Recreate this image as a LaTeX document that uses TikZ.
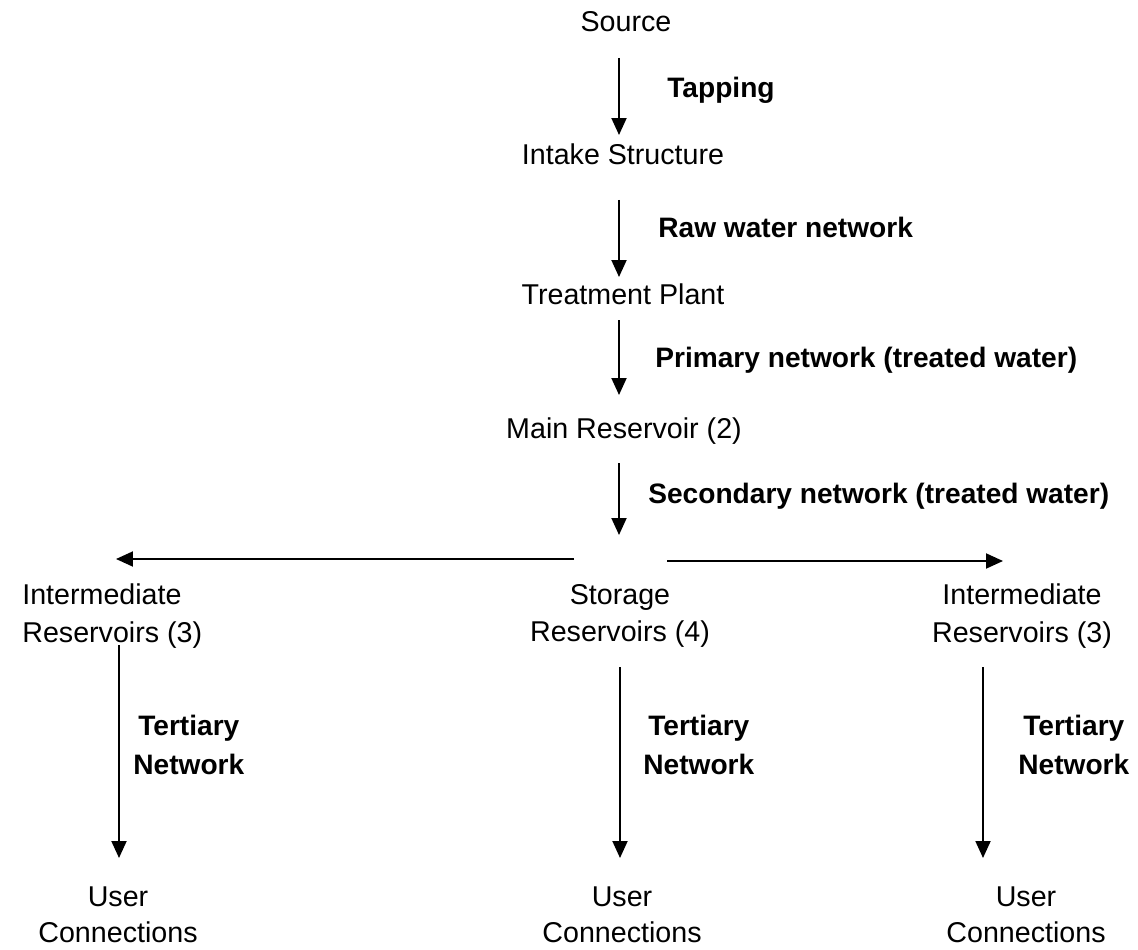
\documentclass[tikz,border=0pt]{standalone}
\usepackage{fontspec}
\setmainfont{Liberation Sans}
\usetikzlibrary{arrows.meta}
\tikzset{
  place/.style={inner sep=0pt, font=\fontsize{16.3}{21.5}\selectfont, align=center},
  netname/.style={inner sep=0pt, anchor=west, font=\fontsize{16}{22.5}\selectfont\bfseries, align=center},
  flow/.style={line width=1.1pt, -{Triangle[length=0.34cm,width=0.3cm]}}
}
\begin{document}
\begin{tikzpicture}[x=0.02cm,y=-0.02cm]
\useasboundingbox (0,0) rectangle (1138,949);
% main line
\node[place,anchor=base] (source) at (626,32) {Source};
\node[place,anchor=base] (intake) at (623,165) {Intake Structure};
\node[place,anchor=base] (plant) at (623,304) {Treatment Plant};
\node[place,anchor=base] (mainres) at (624,438) {Main Reservoir (2)};
% reservoirs
\node[place,align=left,anchor=west] (interL) at (22,616) {Intermediate\\Reservoirs (3)};
\node[place] (storage) at (620,616) {Storage\\Reservoirs (4)};
\node[place] (interR) at (1022,616) {Intermediate\\Reservoirs (3)};
% users
\node[place,font=\fontsize{16.3}{20.5}\selectfont] (userL) at (118,915) {User\\Connections};
\node[place,font=\fontsize{16.3}{20.5}\selectfont] (userM) at (622,915) {User\\Connections};
\node[place,font=\fontsize{16.3}{20.5}\selectfont] (userR) at (1026,915) {User\\Connections};
% network names
\node[netname] (tapping) at (667,90) {Tapping};
\node[netname] (raw) at (658,227) {Raw water network};
\node[netname] (primary) at (655,360) {Primary network (treated water)};
\node[netname] (secondary) at (648,496) {Secondary network (treated water)};
\node[netname] (tertL) at (133,745) {Tertiary\\Network};
\node[netname] (tertM) at (643,745) {Tertiary\\Network};
\node[netname] (tertR) at (1018,745) {Tertiary\\Network};
% arrow ends
\coordinate (tapA) at (619,58);   \coordinate (tapB) at (619,135);
\coordinate (rawA) at (619,200);  \coordinate (rawB) at (619,277);
\coordinate (priA) at (619,320);  \coordinate (priB) at (619,395);
\coordinate (secA) at (619,463);  \coordinate (secB) at (619,535);
\coordinate (splitL) at (574,559); \coordinate (toInterL) at (116,559);
\coordinate (splitR) at (667,561); \coordinate (toInterR) at (1003,561);
\coordinate (terLA) at (119,645); \coordinate (terLB) at (119,858);
\coordinate (terMA) at (620,667); \coordinate (terMB) at (620,858);
\coordinate (terRA) at (983,667); \coordinate (terRB) at (983,858);
\draw[flow] (tapA) -- (tapB);
\draw[flow] (rawA) -- (rawB);
\draw[flow] (priA) -- (priB);
\draw[flow] (secA) -- (secB);
\draw[flow] (splitL) -- (toInterL);
\draw[flow] (splitR) -- (toInterR);
\draw[flow] (terLA) -- (terLB);
\draw[flow] (terMA) -- (terMB);
\draw[flow] (terRA) -- (terRB);
\end{tikzpicture}
\end{document}
